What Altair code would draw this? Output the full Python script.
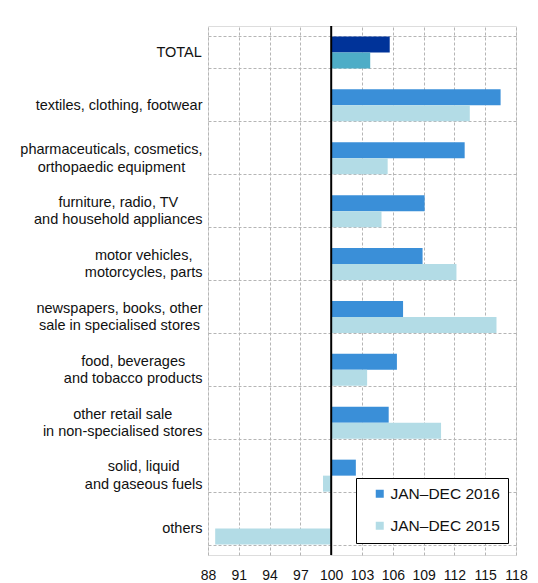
import altair as alt
import pandas as pd

categories = [
    "TOTAL",
    "textiles, clothing, footwear",
    "pharmaceuticals, cosmetics,|orthopaedic equipment",
    "furniture, radio, TV|and household appliances",
    "motor vehicles,|motorcycles, parts",
    "newspapers, books, other|sale in specialised stores",
    "food, beverages|and tobacco products",
    "other retail sale|in non-specialised stores",
    "solid, liquid|and gaseous fuels",
    "others",
]
values_2016 = [105.7, 116.5, 113.0, 109.1, 108.9, 107.0, 106.4, 105.6, 102.4, None]
values_2015 = [103.8, 113.5, 105.5, 104.9, 112.2, 116.1, 103.5, 110.7, 99.2, 88.7]
x_ticks = [88, 91, 94, 97, 100, 103, 106, 109, 112, 115, 118]
series_names = ["JAN–DEC 2016", "JAN–DEC 2015", "TOTAL 2016", "TOTAL 2015"]
series_colors = ["#3a8fd8", "#b3dce6", "#003399", "#4eadc7"]

rows = []
for cat, v16, v15 in zip(categories, values_2016, values_2015):
    for yr, v in (("2016", v16), ("2015", v15)):
        if v is None:
            continue
        key = ("TOTAL " + yr) if cat == "TOTAL" else ("JAN–DEC " + yr)
        rows.append({"cat": cat, "year": yr, "value": v, "key": key})
df = pd.DataFrame(rows)

# approximate Arial widths (em) to centre multi-line labels inside a right-aligned block
W = {'a': .556, 'b': .556, 'c': .5, 'd': .556, 'e': .556, 'f': .278, 'g': .556, 'h': .556,
     'i': .222, 'j': .222, 'k': .5, 'l': .222, 'm': .833, 'n': .556, 'o': .556, 'p': .556,
     'q': .556, 'r': .333, 's': .5, 't': .278, 'u': .556, 'v': .5, 'w': .722, 'x': .5,
     'y': .5, 'z': .5, ' ': .278, ',': .278, '-': .333, 'T': .611, 'O': .778, 'A': .667,
     'L': .556, 'V': .667}
FS = 14.5
LH = 17.5
pad_conds = []
off_conds = []
for cat in categories:
    lines = cat.split("|")
    w = max(sum(W.get(ch, .556) for ch in line) for line in lines) * FS
    pad_conds.append({"test": f"datum.value == '{cat}'", "value": round(6 + w / 2, 1)})
    if len(lines) > 1:
        off_conds.append({"test": f"datum.value == '{cat}'", "value": -(len(lines) - 1) * LH / 2})

y_enc = alt.Y(
    "cat:N", sort=categories, title=None,
    scale=alt.Scale(paddingInner=0.395, paddingOuter=0.1975),
    axis=alt.Axis(
        labelExpr="split(datum.label, '|')", labelFontSize=FS, labelLineHeight=LH,
        labelAlign="center", labelBaseline="middle", labelColor="#111",
        labelPadding={"condition": pad_conds, "value": 6},
        labelOffset={"condition": off_conds, "value": 0},
        ticks=False, tickSize=0, domain=False, tickBand="extent",
        grid=True, gridColor="#b5b5b5", gridDash=[3, 2], labelLimit=300,
    ),
)
x_scale = alt.Scale(domain=[88, 118], nice=False, zero=False)
x_axis = alt.Axis(values=x_ticks, labelFontSize=14, labelColor="#111", ticks=False,
                  domain=False, labelPadding=13, grid=True, gridColor="#b5b5b5",
                  gridDash=[3, 2], labelFlush=False, labelOverlap=False)

legend = alt.Legend(
    values=series_names[:2], title=None, orient="none", legendX=148, legendY=452,
    padding=8, symbolOffset=8, symbolType="square", symbolSize=64, symbolStrokeWidth=0,
    labelFontSize=15.5, labelColor="#111", rowPadding=15, labelOffset=3,
    strokeColor="black", fillColor="white", cornerRadius=0,
)

bars = alt.Chart(df).mark_bar().encode(
    y=y_enc,
    yOffset=alt.YOffset("year:N", sort=["2016", "2015"],
                        scale=alt.Scale(paddingInner=0, paddingOuter=0)),
    x=alt.X("value:Q", scale=x_scale, axis=x_axis, title=None),
    x2=alt.datum(100),
    color=alt.Color("key:N", scale=alt.Scale(domain=series_names, range=series_colors),
                    legend=legend),
)

rule = alt.Chart(pd.DataFrame({"base": [100]})).mark_rule(color="black", strokeWidth=2).encode(
    x=alt.X("base:Q", scale=x_scale, axis=x_axis, title=None)
)

chart = alt.layer(bars, rule).properties(
    width=308, height=529,
    autosize=alt.AutoSizeParams(type="none"),
    padding={"left": 200, "top": 18, "right": 14, "bottom": 26},
).configure_view(stroke="#444", strokeWidth=1.5).configure(
    font="Liberation Sans", background="white"
)

chart.save("out.html", embed_options={"renderer": "svg", "actions": False})
